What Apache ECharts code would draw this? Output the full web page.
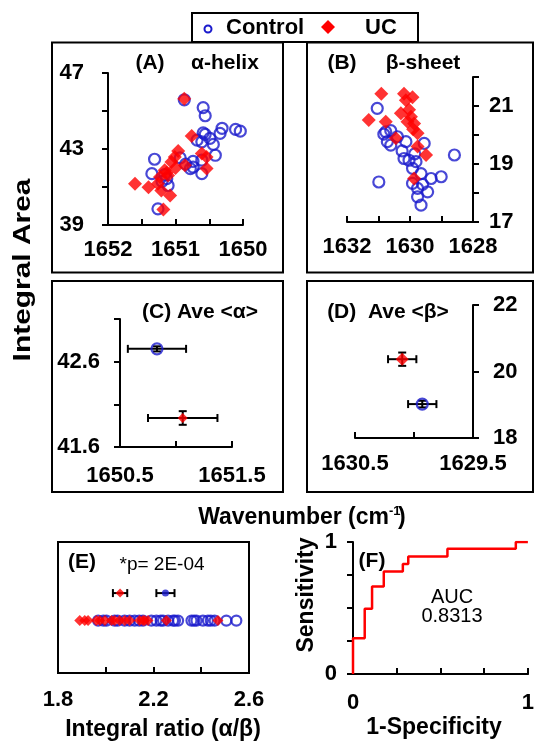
<!DOCTYPE html>
<html>
<head>
<meta charset="utf-8">
<script src="https://cdn.jsdelivr.net/npm/echarts@6/dist/echarts.min.js"></script>
<style>html,body{margin:0;background:#fff}#chart{width:537px;height:743px}</style>
</head>
<body>
<div id="chart"></div>
<script>
// (A) alpha-helix: [wavenumber, integral area]
const aCtrl = [[1650.87,45.59],[1650.59,45.18],[1650.56,44.75],[1650.31,44.09],[1650.11,44.03],[1650.04,43.94],
  [1650.34,43.82],[1650.56,43.77],[1650.49,43.56],[1650.61,43.38],[1650.44,43.24],[1650.41,42.67],[1650.61,42.41],
  [1650.74,42.35],[1650.74,42.05],[1650.61,41.70],[1650.78,41.97],[1651.31,42.46],[1651.35,41.70],[1651.16,41.65],
  [1651.11,41.08],[1651.26,39.85],[1650.93,42.53],[1651.13,41.44],[1650.68,43.47],[1650.59,43.85],[1651.20,41.30],[1650.85,42.20]];
const aUC = [[1650.87,45.64],[1650.76,43.69],[1650.96,42.90],[1650.61,42.76],[1650.54,42.58],[1650.86,42.14],[1651.06,42.32],
  [1651.01,42.58],[1650.54,41.97],[1651.16,41.88],[1651.11,41.61],[1651.23,41.52],[1651.26,41.17],[1651.60,41.17],
  [1651.40,40.99],[1651.21,40.82],[1651.08,40.55],[1651.18,39.81],[1651.13,41.75],[1651.00,42.00]];
// (B) beta-sheet
const bCtrl = [[1631.04,20.92],[1630.83,20.03],[1630.61,20.15],[1630.77,20.11],[1630.72,19.77],[1630.61,19.65],[1630.40,19.94],
  [1630.13,19.77],[1629.55,19.71],[1630.19,19.19],[1630.03,19.13],[1629.81,19.08],[1629.92,18.85],[1629.65,18.67],
  [1628.59,19.31],[1630.99,18.38],[1629.33,18.50],[1629.01,18.56],[1629.92,18.33],[1629.76,18.16],[1629.44,18.04],
  [1629.76,17.87],[1629.65,17.58],[1630.25,19.45],[1629.85,19.35],[1629.60,18.30]];
const bUC = [[1630.91,21.42],[1630.19,21.42],[1629.92,21.30],[1631.31,20.52],[1630.77,20.46],[1630.29,20.75],[1630.03,20.87],
  [1629.97,20.63],[1630.08,20.46],[1629.87,20.40],[1629.76,20.06],[1630.45,19.89],[1629.76,19.60],[1629.49,19.31],
  [1629.87,18.50],[1630.13,21.20],[1629.90,20.20]];
// (C)/(D) averages: [x, y, xErr, yErr]
const cCtrl = [1650.83, 42.75, 0.26, 0.03];
const cUC = [1651.06, 41.94, 0.31, 0.08];
const dCtrl = [1629.93, 19.02, 0.12, 0.10];
const dUC = [1630.10, 20.37, 0.12, 0.20];
// (E) integral ratio
const eUC = [1.891,1.912,1.926,1.961,1.975,1.996,2.024,2.037,2.058,2.079,2.100,2.142,2.156,2.163,2.177,2.254,2.470];
const eCtrl = [1.968,2.003,2.037,2.079,2.121,2.156,2.191,2.212,2.240,2.261,2.282,2.303,2.359,2.380,2.407,2.428,2.456,
  2.505,2.547,1.990,2.050,2.100,2.140,2.230,2.290,2.370,2.440];
const eUCMean = [2.06, 0.03];
const eCtrlMean = [2.25, 0.038];
// (F) ROC curve corners
const roc = [[0,0],[0,0.271],[0.067,0.494],[0.109,0.663],[0.176,0.777],[0.285,0.833],[0.316,0.891],[0.54,0.949],[0.931,1],[1,1]];
// tick labels
const aXTicks = ['1652','1651','1650'], aYTicks = ['47','43','39'];
const bXTicks = ['1632','1630','1628'], bYTicks = ['21','19','17'];
const cXTicks = ['1650.5','1651.5'], cYTicks = ['42.6','41.6'];
const dXTicks = ['1630.5','1629.5'], dYTicks = ['22','20','18'];
const eXTicks = ['1.8','2.2','2.6'];
const fXTicks = ['0','1'], fYTicks = ['0','1'];

const font = 'Liberation Sans, Arial, sans-serif';
const blue = '#1a1acc', red = '#ff0000';
const chart = echarts.init(document.getElementById('chart'));

function axis(gridIndex, min, max, interval, labels, o = {}) {
  return {
    type: 'value', gridIndex, min, max, interval,
    inverse: !!o.inverse, position: o.position,
    axisLine: {show: true, onZero: false, lineStyle: {color: '#000', width: 2}},
    axisTick: {show: true, inside: !!o.inside, length: 6, lineStyle: {color: '#000', width: 2}},
    splitLine: {show: false},
    axisLabel: {
      show: true, color: '#000', fontSize: 22, fontWeight: 'bold', fontFamily: font,
      margin: o.margin || 10, showMinLabel: true, showMaxLabel: true,
      formatter: v => labels.find(l => Math.abs(parseFloat(l) - v) < 1e-6) || ''
    }
  };
}

function errorBars(params, api) {
  const x = api.value(0), y = api.value(1), dx = api.value(2), dy = api.value(3);
  const cap = 4, st = {stroke: '#000', lineWidth: 2};
  const kids = [];
  if (dx > 0) {
    const l = api.coord([x - dx, y]), r = api.coord([x + dx, y]);
    kids.push({type: 'line', shape: {x1: l[0], y1: l[1], x2: r[0], y2: r[1]}, style: st},
      {type: 'line', shape: {x1: l[0], y1: l[1] - cap, x2: l[0], y2: l[1] + cap}, style: st},
      {type: 'line', shape: {x1: r[0], y1: r[1] - cap, x2: r[0], y2: r[1] + cap}, style: st});
  }
  if (dy > 0) {
    const t = api.coord([x, y + dy]), b = api.coord([x, y - dy]);
    kids.push({type: 'line', shape: {x1: t[0], y1: t[1], x2: b[0], y2: b[1]}, style: st},
      {type: 'line', shape: {x1: t[0] - cap, y1: t[1], x2: t[0] + cap, y2: t[1]}, style: st},
      {type: 'line', shape: {x1: b[0] - cap, y1: b[1], x2: b[0] + cap, y2: b[1]}, style: st});
  }
  return {type: 'group', children: kids};
}

const ring = {color: 'rgba(0,0,0,0)', borderColor: blue, borderWidth: 2.2};
const sc = (i, data, ctrl, size) => ({
  type: 'scatter', xAxisIndex: i, yAxisIndex: i, data, symbol: ctrl ? 'circle' : 'diamond',
  symbolSize: size, itemStyle: ctrl ? ring : {color: red}, silent: true, z: ctrl ? 2 : 3
});
const eb = (i, data) => ({type: 'custom', xAxisIndex: i, yAxisIndex: i, data, renderItem: errorBars, z: 1, silent: true});

const txt = (x, y, text, size, opts = {}) => ({
  type: 'text', x, y, rotation: opts.rot || 0, scaleX: opts.sx || 1,
  style: {text, x: 0, y: 0, fill: '#000', font: (opts.weight || 'bold') + ' ' + size + 'px ' + font,
    textAlign: opts.align || 'center', textVerticalAlign: 'middle'}
});
const frame = (x, y, w, h) => ({type: 'rect', shape: {x, y, width: w, height: h},
  style: {fill: 'none', stroke: '#000', lineWidth: 2}});

chart.setOption({
  animation: false,
  grid: [
    {left: 108, top: 73, width: 135, height: 152},
    {left: 347, top: 77, width: 126, height: 145},
    {left: 120, top: 319, width: 112, height: 128},
    {left: 355, top: 305, width: 118, height: 133},
    {left: 58, top: 542, width: 191, height: 131, show: true, borderColor: '#000', borderWidth: 2},
    {left: 353, top: 542, width: 183, height: 132}
  ],
  xAxis: [
    axis(0, 1650, 1652, 0.5, aXTicks, {inverse: true, inside: true, margin: 14}),
    axis(1, 1628, 1632, 1, bXTicks, {inverse: true, inside: true, margin: 14}),
    axis(2, 1650.5, 1651.5, 0.5, cXTicks, {inside: true, margin: 18}),
    axis(3, 1629.5, 1630.5, 0.5, dXTicks, {inverse: true, inside: true, margin: 15}),
    axis(4, 1.8, 2.6, 0.2, eXTicks, {inside: true, margin: 16}),
    axis(5, 0, 1, 0.25, fXTicks, {inside: true, margin: 18}),
    {type: 'value', gridIndex: 5, position: 'top', min: 0, max: 1, axisLine: {show: true, lineStyle: {color: '#000', width: 2}},
      axisTick: {show: false}, axisLabel: {show: false}, splitLine: {show: false}}
  ],
  yAxis: [
    axis(0, 39, 47, 2, aYTicks, {margin: 24}),
    axis(1, 17, 22, 1, bYTicks, {position: 'right', margin: 16}),
    axis(2, 41.6, 43.1, 0.5, cYTicks, {margin: 20}),
    axis(3, 18, 22, 2, dYTicks, {position: 'right', margin: 20}),
    {type: 'value', gridIndex: 4, min: 0, max: 1, show: false},
    axis(5, 0, 1, 0.25, fYTicks, {margin: 16})
  ],
  series: [
    sc(0, aCtrl, true, 11), sc(0, aUC, false, 14),
    sc(1, bCtrl, true, 11), sc(1, bUC, false, 14),
    eb(2, [cCtrl, cUC]), sc(2, [cCtrl.slice(0, 2)], true, 11), sc(2, [cUC.slice(0, 2)], false, 10),
    eb(3, [dCtrl, dUC]), sc(3, [dCtrl.slice(0, 2)], true, 11), sc(3, [dUC.slice(0, 2)], false, 13),
    sc(4, eCtrl.map(v => [v, 0.4]), true, 10), sc(4, eUC.map(v => [v, 0.4]), false, 11),
    eb(4, [[eUCMean[0], 0.61, eUCMean[1], 0], [eCtrlMean[0], 0.61, eCtrlMean[1], 0]]),
    {type: 'scatter', xAxisIndex: 4, yAxisIndex: 4, data: [[eCtrlMean[0], 0.61]], symbol: 'circle', symbolSize: 7,
      itemStyle: {color: blue}, z: 4, silent: true},
    {type: 'scatter', xAxisIndex: 4, yAxisIndex: 4, data: [[eUCMean[0], 0.61]], symbol: 'diamond', symbolSize: 9,
      itemStyle: {color: red}, z: 4, silent: true},
    {type: 'line', xAxisIndex: 5, yAxisIndex: 5, data: roc, step: 'end', showSymbol: false,
      lineStyle: {color: red, width: 2.5}, silent: true}
  ],
  graphic: [
    frame(52, 42.5, 231, 230), frame(307, 42.5, 226, 230),
    frame(52, 281, 231, 211), frame(307, 281, 226, 211),
    frame(192, 13, 226, 29),
    {type: 'circle', shape: {cx: 208, cy: 29, r: 3.5}, style: {fill: 'none', stroke: blue, lineWidth: 2}},
    txt(226, 28, 'Control', 22, {align: 'left'}),
    {type: 'polygon', shape: {points: [[328, 20], [335, 27], [328, 34], [321, 27]]}, style: {fill: red}},
    txt(365, 28, 'UC', 22, {align: 'left'}),
    txt(150, 63, '(A)', 21), txt(225, 63, 'α-helix', 21),
    txt(342, 63, '(B)', 21), txt(423, 63, 'β-sheet', 21),
    txt(200, 312, '(C) Ave <α>', 21), txt(388, 312, '(D)  Ave <β>', 21),
    txt(82, 562, '(E)', 21), txt(162, 565, '*p= 2E-04', 19, {weight: 'normal'}),
    txt(372, 561, '(F)', 21),
    txt(452, 597, 'AUC', 20, {weight: 'normal'}), txt(452, 616, '0.8313', 20, {weight: 'normal'}),
    txt(24, 270, 'Integral Area', 23, {rot: Math.PI / 2, sx: 1.3}),
    txt(389, 518, 'Wavenumber (cm', 23, {align: 'right'}),
    txt(389, 511, '-1', 13, {align: 'left'}),
    txt(398, 518, ')', 23, {align: 'left'}),
    txt(163, 730, 'Integral ratio (α/β)', 23),
    txt(434, 728, '1-Specificity', 23),
    txt(307, 595, 'Sensitivity', 23, {rot: Math.PI / 2})
  ]
});
</script>
</body>
</html>
